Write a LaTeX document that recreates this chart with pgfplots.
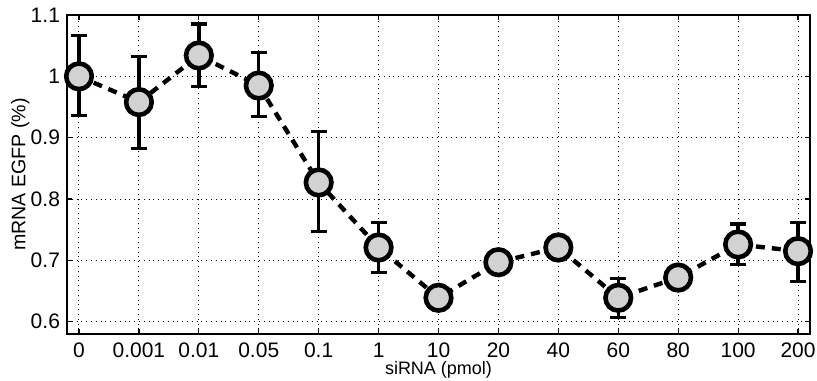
\documentclass[border=0pt]{standalone}
\usepackage{fontspec}
\setmainfont{Liberation Sans}
\usepackage{pgfplots}
\pgfplotsset{compat=1.18}
\begin{document}
\begin{tikzpicture}
\begin{axis}[
  name=ax,
  scale only axis,
  width=371.5pt, height=159.5pt,
  xmin=-0.2, xmax=12.2,
  ymin=0.58, ymax=1.1,
  xtick={0,...,12},
  xticklabels={0,0.001,0.01,0.05,0.1,1,10,20,40,60,80,100,200},
  ytick={0.6,0.7,0.8,0.9,1.0,1.1},
  yticklabels={0.6,0.7,0.8,0.9,1,1.1},
  /pgf/number format/assume math mode=true,
  tick label style={font=\fontsize{10.5}{12}\selectfont},
  xlabel={siRNA (pmol)},
  ylabel={mRNA EGFP (\%)},
  every axis x label/.style={at={(axis description cs:0.5,0)}, anchor=center, yshift=-18pt, font=\fontsize{9}{10}\selectfont},
  every axis y label/.style={at={(axis description cs:-0.063,0.5)}, rotate=90, anchor=center, font=\fontsize{9.8}{11}\selectfont},
  grid=major,
  major grid style={black, dotted, line width=0.5pt},
  tick align=inside,
  major tick length=2.5pt,
  tick style={black, line width=0.6pt},
  axis line style={line width=0.8pt},
  xticklabel style={yshift=-1pt},
]
\addplot[draw=none, mark=none,
  error bars/.cd, y dir=both, y explicit,
  error bar style={line width=1.7pt, black},
  error mark options={rotate=90, mark size=4pt, line width=1.7pt, black}]
  table[x=x, y=y, y error plus=ep, y error minus=em] {
x y ep em
0 1.000 0.067 0.064
1 0.958 0.074 0.076
2 1.034 0.051 0.051
3 0.985 0.054 0.050
4 0.827 0.083 0.080
5 0.721 0.041 0.041
6 0.639 0.0 0.0
7 0.697 0.0 0.0
8 0.721 0.0 0.0
9 0.639 0.031 0.032
10 0.672 0.0 0.0
11 0.726 0.033 0.033
12 0.715 0.047 0.049
};
\addplot[black, line width=2.2pt, dash pattern=on 4.5pt off 3.5pt,
  mark=*, mark size=6.4pt,
  mark options={solid, draw=black, fill=gray!35, line width=2.3pt}]
  table[x=x, y=y] {
x y
0 1.000
1 0.958
2 1.034
3 0.985
4 0.827
5 0.721
6 0.639
7 0.697
8 0.721
9 0.639
10 0.672
11 0.726
12 0.715
};
\end{axis}
\pgfresetboundingbox
\useasboundingbox ([shift={(-33.5pt,-23.5pt)}]ax.south west) rectangle ([shift={(3.5pt,7.5pt)}]ax.north east);
\end{tikzpicture}
\end{document}
